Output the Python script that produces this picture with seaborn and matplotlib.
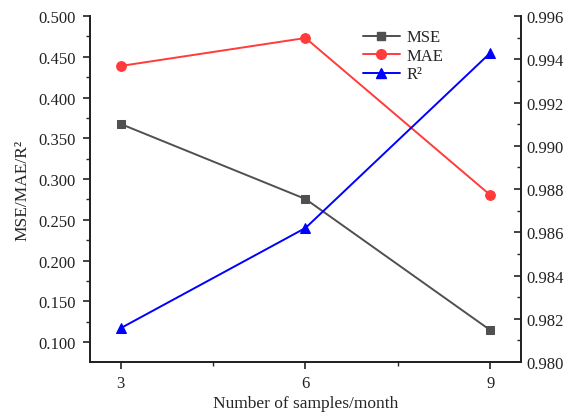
import matplotlib
matplotlib.use("Agg")
import matplotlib.pyplot as plt
import seaborn as sns
import pandas as pd
from matplotlib.ticker import MultipleLocator, FormatStrFormatter
from matplotlib.lines import Line2D

samples = [3, 6, 9]
mse = [0.3675, 0.2755, 0.1147]
mae = [0.4387, 0.4730, 0.2804]
r2 = [0.98157, 0.98620, 0.99429]

sns.set_style("ticks")
plt.rcParams['font.family'] = ['Liberation Serif', 'DejaVu Serif']

df = pd.DataFrame({"x": samples, "MSE": mse, "MAE": mae, "R2": r2})

c_mse = "#505050"
c_mae = "#ff3b3b"
c_r2 = "#0000ff"

fig = plt.figure(figsize=(5.66, 4.14), dpi=100)
ax = fig.add_axes([0.159, 0.123, 0.7615, 0.836])
ax2 = ax.twinx()

sns.lineplot(data=df, x="x", y="MSE", ax=ax, color=c_mse, marker="s", markersize=6,
             markeredgecolor=c_mse, linewidth=1.4)
sns.lineplot(data=df, x="x", y="MAE", ax=ax, color=c_mae, marker="o", markersize=7,
             markeredgecolor=c_mae, linewidth=1.4)
sns.lineplot(data=df, x="x", y="R2", ax=ax2, color=c_r2, marker="^", markersize=7,
             markeredgecolor=c_r2, linewidth=1.4)

ax.set_xlim(2.5, 9.5)
ax.set_ylim(0.0755, 0.5)
ax2.set_ylim(0.980, 0.996)

ax.xaxis.set_major_locator(MultipleLocator(3))
ax.xaxis.set_minor_locator(MultipleLocator(1.5))
ax.yaxis.set_major_locator(MultipleLocator(0.05))
ax.yaxis.set_minor_locator(MultipleLocator(0.025))
ax.yaxis.set_major_formatter(FormatStrFormatter("%.3f"))
ax2.yaxis.set_major_locator(MultipleLocator(0.002))
ax2.yaxis.set_minor_locator(MultipleLocator(0.001))
ax2.yaxis.set_major_formatter(FormatStrFormatter("%.3f"))

ax.tick_params(axis="both", which="major", direction="out", length=5, width=1.2,
               labelsize=12, colors="#222222", pad=5)
ax.tick_params(axis="x", which="major", pad=4)
ax.tick_params(axis="both", which="minor", direction="out", length=3, width=1.0)
ax2.tick_params(axis="y", which="major", direction="in", length=5, width=1.2,
                labelsize=12, colors="#222222", pad=4)
ax2.tick_params(axis="y", which="minor", direction="in", length=3, width=1.0)

for a in (ax, ax2):
    for s in a.spines.values():
        s.set_linewidth(1.3)
        s.set_color("#222222")
    a.spines["top"].set_visible(False)
ax2.spines["right"].set_visible(True)

ax.set_xlabel("Number of samples/month", fontsize=12.5, labelpad=3)
ax.set_ylabel("MSE/MAE/R²", fontsize=12.5, labelpad=6)
ax2.set_ylabel("")

handles = [
    Line2D([], [], color=c_mse, marker="s", markersize=6, linewidth=1.4),
    Line2D([], [], color=c_mae, marker="o", markersize=7, linewidth=1.4),
    Line2D([], [], color=c_r2, marker="^", markersize=7, linewidth=1.4),
]
ax.legend(handles, ["MSE", "MAE", "R²"], loc="upper left", bbox_to_anchor=(0.61, 0.99),
          frameon=False, fontsize=12, handlelength=2.2, labelspacing=0.15,
          handletextpad=0.4, borderaxespad=0.2)

fig.savefig("out.png", dpi=100)
